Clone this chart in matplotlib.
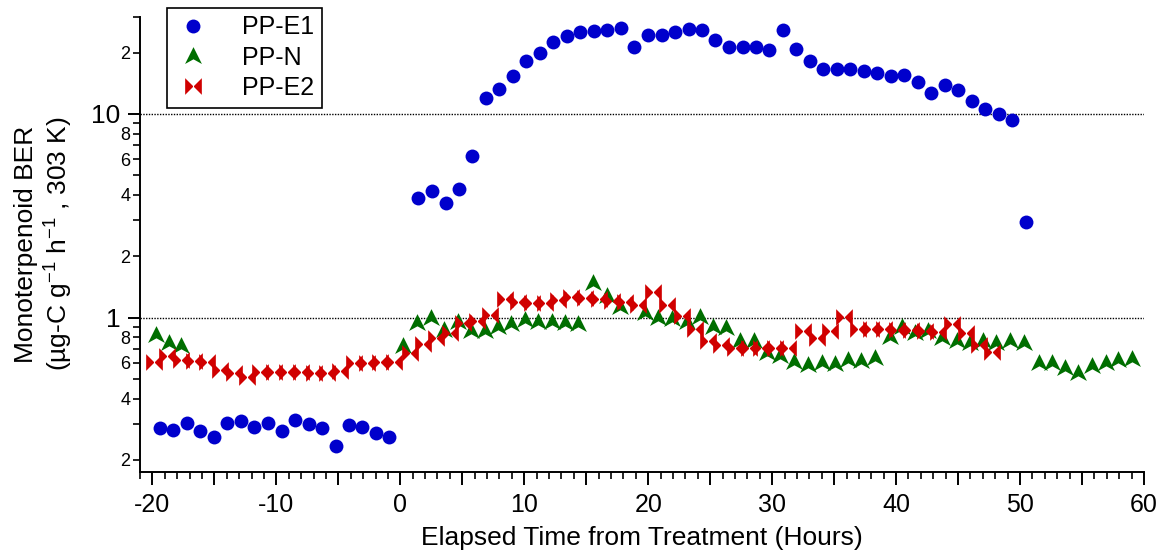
''' MONOTERPENOID BER vs ELAPSED TIME '''

import numpy as np
import matplotlib
matplotlib.use("Agg")
import matplotlib.pyplot as plt
from matplotlib.path import Path
from matplotlib.ticker import LogLocator, MultipleLocator, FuncFormatter

plt.rcParams['font.family'] = ['Liberation Sans', 'DejaVu Sans']
plt.rcParams['mathtext.fontset'] = 'custom'
plt.rcParams['mathtext.rm'] = 'Liberation Sans'
plt.rcParams['mathtext.it'] = 'Liberation Sans:italic'

# PP-E1 (hours, BER)
e1_time = [-19.35, -18.31, -17.21, -16.16, -15.05, -13.95, -12.87, -11.77, -10.67,
           -9.56, -8.49, -7.38, -6.34, -5.21, -4.16, -3.05, -1.98, -0.90,
           1.44, 2.54, 3.65, 4.72, 5.80, 6.90, 7.97, 9.08, 10.15, 11.26, 12.34,
           13.44, 14.51, 15.62, 16.69, 17.80, 18.87, 19.98, 21.08, 22.16, 23.26,
           24.33, 25.41, 26.51, 27.62, 28.69, 29.77, 30.85, 31.95, 33.05, 34.12,
           35.23, 36.30, 37.41, 38.48, 39.59, 40.66, 41.77, 42.84, 43.95, 45.02,
           46.13, 47.20, 48.30, 49.38, 50.46]
e1_ber = [0.286, 0.281, 0.305, 0.277, 0.259, 0.305, 0.311, 0.290, 0.305,
          0.278, 0.315, 0.301, 0.288, 0.235, 0.298, 0.291, 0.272, 0.258,
          3.86, 4.20, 3.64, 4.30, 6.22, 12.0, 13.2, 15.4, 18.1, 19.9, 22.6,
          24.0, 25.3, 25.4, 25.9, 26.5, 21.4, 24.4, 24.5, 25.1, 26.2,
          25.9, 23.0, 21.2, 21.2, 21.2, 20.7, 25.8, 20.8, 18.1, 16.7,
          16.7, 16.6, 16.2, 15.9, 15.4, 15.5, 14.4, 12.7, 13.9, 13.1,
          11.6, 10.6, 9.97, 9.31, 2.95]

# PP-N
n_time = [-19.7, -18.66, -17.7,
          0.23, 1.36, 2.44, 3.51, 4.67, 5.74, 6.82, 7.9, 8.97, 10.05, 11.1,
          12.2, 13.3, 14.35, 15.56, 16.64, 17.7, 19.73, 20.8, 21.9, 23.1,
          24.17, 25.2, 26.3, 27.4, 28.5, 29.56, 30.6, 31.76, 32.9, 34.0,
          35.07, 36.1, 37.2, 38.3, 39.5, 40.45, 41.5, 42.6, 43.7, 44.9,
          46.0, 47.0, 48.1, 49.2, 50.3, 51.5, 52.6, 53.6, 54.7, 55.8,
          56.9, 57.9, 59.0]
n_ber = [0.822, 0.748, 0.726,
         0.726, 0.945, 0.993, 0.870, 0.956, 0.854, 0.854, 0.897, 0.931, 0.974, 0.956,
         0.956, 0.945, 0.931, 1.475, 1.278, 1.13, 1.05, 0.993, 0.982, 0.956,
         1.01, 0.903, 0.887, 0.763, 0.763, 0.669, 0.644, 0.608, 0.586, 0.601,
         0.593, 0.620, 0.613, 0.632, 0.80, 0.903, 0.844, 0.854, 0.792, 0.763,
         0.754, 0.763, 0.754, 0.763, 0.748, 0.601, 0.601, 0.565, 0.537, 0.579,
         0.601, 0.620, 0.625]

# PP-E2
e2_time = [-19.89, -18.81, -17.73, -16.66, -15.58, -14.51, -13.43, -12.36, -11.28,
           -10.21, -9.13, -8.05, -6.98, -5.90, -4.83, -3.75, -2.68, -1.60, -0.52,
           0.77, 1.84, 2.92, 4.0, 5.07, 6.15, 7.22, 8.43, 9.5, 10.6, 11.7,
           12.75, 13.8, 14.9, 16.0, 17.1, 18.1, 19.2, 20.4, 21.5, 22.7, 23.8,
           24.8, 25.9, 27.0, 28.1, 29.1, 30.2, 31.3, 32.5, 33.6, 34.7, 35.8,
           36.9, 37.95, 39.0, 40.1, 41.2, 42.3, 43.4, 44.5, 45.6, 46.7, 47.7]
e2_ber = [0.608, 0.649, 0.620, 0.613, 0.604, 0.554, 0.537, 0.513, 0.543,
          0.543, 0.543, 0.543, 0.533, 0.533, 0.549, 0.601, 0.595, 0.604, 0.608,
          0.673, 0.743, 0.792, 0.844, 0.938, 0.967, 1.031, 1.23, 1.198, 1.177, 1.185,
          1.22, 1.259, 1.245, 1.23, 1.21, 1.198, 1.154, 1.33, 1.154, 1.02, 0.877,
          0.771, 0.734, 0.707, 0.707, 0.707, 0.707, 0.707, 0.854, 0.792, 0.854, 1.01,
          0.877, 0.877, 0.877, 0.87, 0.87, 0.86, 0.85, 0.93, 0.838, 0.734, 0.681]

# custom markers
bowtie = Path([(-1, 1), (0, 0), (-1, -1), (-1, 1), (1, 1), (0, 0), (1, -1), (1, 1)],
              [Path.MOVETO, Path.LINETO, Path.LINETO, Path.CLOSEPOLY,
               Path.MOVETO, Path.LINETO, Path.LINETO, Path.CLOSEPOLY])
arrow = Path([(0, 1), (0.9, -0.8), (0, -0.3), (-0.9, -0.8), (0, 1)],
             [Path.MOVETO, Path.LINETO, Path.LINETO, Path.LINETO, Path.CLOSEPOLY])

fig = plt.figure(figsize=(11.68, 5.57), dpi=100)
ax = fig.add_axes([140/1168, 1-471.7/557, (1144-140)/1168, (471.7-16.7)/557])

ax.axhline(1, color='black', lw=1, ls=(0, (1, 1)), zorder=1)
ax.axhline(10, color='black', lw=1, ls=(0, (1, 1)), zorder=1)

l1, = ax.plot(e1_time, e1_ber, ls='none', marker='o', ms=10, mew=0, color='#0000CC', label='PP-E1')
l2, = ax.plot(n_time, n_ber, ls='none', marker=arrow, ms=13.5, mew=0, color='#006E00', label='PP-N')
l3, = ax.plot(e2_time, e2_ber, ls='none', marker=bowtie, ms=12, mew=0, color='#D00000', label='PP-E2')

ax.set_yscale('log')
ax.set_xlim(-21, 60)
ax.set_ylim(0.175, 30)

for s in ['top', 'right']:
    ax.spines[s].set_visible(False)
for s in ['left', 'bottom']:
    ax.spines[s].set_linewidth(1.4)

ax.yaxis.set_major_locator(LogLocator(base=10))
ax.yaxis.set_minor_locator(LogLocator(base=10, subs=np.arange(2, 10)))
ax.yaxis.set_major_formatter(FuncFormatter(lambda v, p: '%g' % v))


def minor_fmt(v, p):
    m = int(round(v / 10**np.floor(np.log10(v))))
    return str(m) if m in (2, 4, 6, 8) else ''


ax.yaxis.set_minor_formatter(FuncFormatter(minor_fmt))
ax.tick_params(axis='y', which='major', length=9, width=1.4, labelsize=19, pad=5)
ax.tick_params(axis='y', which='minor', length=5, width=1.2, labelsize=13, pad=2)

ax.xaxis.set_major_locator(MultipleLocator(5))
ax.xaxis.set_minor_locator(MultipleLocator(1))
ax.xaxis.set_major_formatter(FuncFormatter(lambda v, p: '%d' % v if round(v) % 10 == 0 else ''))
ax.tick_params(axis='x', which='major', length=9, width=1.4, labelsize=18, pad=6)
ax.tick_params(axis='x', which='minor', length=5, width=1.2)

ax.set_xlabel('Elapsed Time from Treatment (Hours)', fontsize=19, labelpad=7)
fig.text(26/1168, 0.562, 'Monoterpenoid BER', rotation=90, ha='center', va='center', fontsize=19)
fig.text(59/1168, 0.562, r'(µg-C g$^{-1}$ h$^{-1}$ , 303 K)', rotation=90,
         ha='center', va='center', fontsize=19)

leg = fig.legend(handles=[l1, l2, l3], loc='upper left',
                 bbox_to_anchor=(167/1168, 1-8/557), borderaxespad=0,
                 fontsize=18, fancybox=False, edgecolor='black', framealpha=1,
                 handlelength=1.5, handletextpad=1.2, labelspacing=0.25, borderpad=0.3)
leg.get_frame().set_linewidth(1.2)

fig.savefig('out.png', dpi=100)
